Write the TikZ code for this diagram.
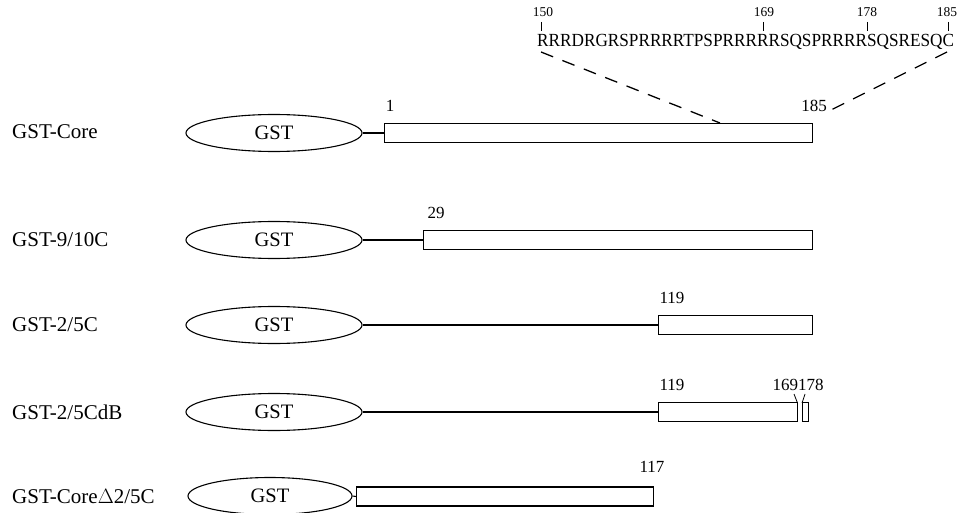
\documentclass[tikz,border=0pt]{standalone}
\usepackage{fontspec}
\setmainfont{Liberation Serif}
\usetikzlibrary{shapes.geometric}
\begin{document}
\begin{tikzpicture}[x=1pt,y=-1pt,
  gst/.style={draw,ellipse,line width=1.1pt,minimum width=176pt,minimum height=37pt,inner sep=0pt,font=\fontsize{20.5}{24}\selectfont},
  bar/.style={draw,rectangle,line width=1.1pt,minimum height=19pt,inner sep=0pt,anchor=west},
  rowlabel/.style={anchor=west,inner sep=0pt,font=\fontsize{21}{24}\selectfont},
  num/.style={inner sep=0pt,font=\fontsize{17}{20}\selectfont},
  small/.style={inner sep=0pt,font=\fontsize{13.5}{15}\selectfont},
  link/.style={line width=1.1pt},
  zoomline/.style={line width=1.3pt,dash pattern=on 13pt off 10pt}]
\useasboundingbox (0,0) rectangle (958,513);

% sequence of the C-terminal region
\node[anchor=base west,inner sep=0pt,font=\fontsize{18.5}{20}\selectfont,xscale=0.93,transform shape] (seq) at (537,47)
  {RRRDRGRSPRRRRTPSPRRRRRSQSPRRRRSQSRESQC};
\foreach \p/\x in {150/541,169/763,178/867,185/948}{
  \draw[line width=0.8pt] (\x,22) -- (\x,31);
}
\node[small] (n150) at (543,12) {150};
\node[small] (n169) at (764,12) {169};
\node[small] (n178) at (867,12) {178};
\node[small] (n185) at (947,12) {185};

% GST-Core
\node[rowlabel] (l1) at (12,132) {GST-Core};
\node[gst] (g1) at (274,133) {GST};
\node[bar,minimum width=428pt] (r1) at (384,133) {};
\draw[link] (g1.east) -- (r1.west);
\node[num] (a1) at (390,106) {1};
\node[num] (b1) at (814,106) {185};

% expansion lines
\coordinate (zl0) at (541,52);
\coordinate (zl1) at (720,123);
\coordinate (zr0) at (947,52);
\coordinate (zr1) at (825,113);
\draw[zoomline] (zl0) -- (zl1);
\draw[zoomline] (zr0) -- (zr1);

% GST-9/10C
\node[rowlabel] (l2) at (12,240) {GST-9/10C};
\node[gst] (g2) at (274,240) {GST};
\node[bar,minimum width=389pt] (r2) at (423,240) {};
\draw[link] (g2.east) -- (r2.west);
\node[num] (a2) at (436,213) {29};

% GST-2/5C
\node[rowlabel] (l3) at (12,325) {GST-2/5C};
\node[gst] (g3) at (274,325) {GST};
\node[bar,minimum width=154pt] (r3) at (658,325) {};
\draw[link] (g3.east) -- (r3.west);
\node[num] (a3) at (672,298) {119};

% GST-2/5CdB
\node[rowlabel] (l4) at (12,412) {GST-2/5CdB};
\node[gst] (g4) at (274,412) {GST};
\node[bar,minimum width=139pt] (r4) at (658,412) {};
\node[bar,minimum width=6pt] (s4) at (802,412) {};
\draw[link] (g4.east) -- (r4.west);
\node[num] (a4) at (672,385) {119};
\node[num] (b4) at (798,385) {169178};
\draw[line width=0.8pt] (794,394) -- (797.5,403);
\draw[line width=0.8pt] (805,394) -- (802,403);

% GST-Core delta 2/5C
\node[rowlabel] (l5) at (12,497) {GST-Core$\Delta$2/5C};
\node[gst,minimum width=164pt] (g5) at (270,496) {GST};
\node[bar,minimum width=297pt] (r5) at (356,496.5) {};
\draw[link] (g5.east) -- (r5.west);
\node[num] (a5) at (652,467) {117};
\end{tikzpicture}
\end{document}
